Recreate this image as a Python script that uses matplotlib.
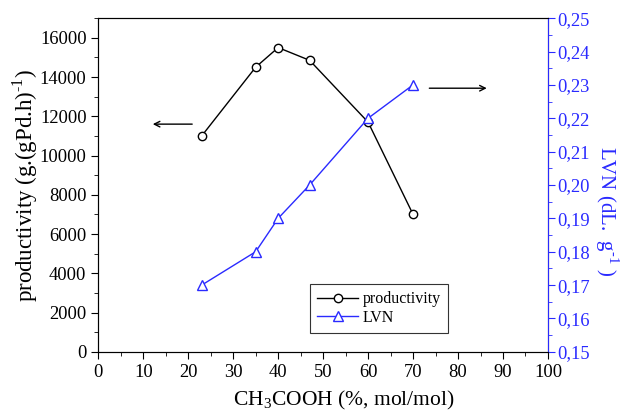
import matplotlib
matplotlib.use("Agg")
import matplotlib.pyplot as plt
from matplotlib.ticker import MultipleLocator, FuncFormatter

plt.rcParams['font.family'] = ['Liberation Serif', 'DejaVu Serif']
plt.rcParams['mathtext.fontset'] = 'custom'
plt.rcParams['mathtext.rm'] = 'Liberation Serif'

acid = [23, 35, 40, 47, 60, 70]
productivity = [11000, 14500, 15500, 14850, 11700, 7000]
lvn = [0.17, 0.18, 0.19, 0.20, 0.22, 0.23]

blue = '#2a2aff'

fig = plt.figure(figsize=(6.22, 4.12), dpi=100)
ax = fig.add_axes([0.158, 0.146, 0.723, 0.81])
ax2 = ax.twinx()

l1, = ax.plot(acid, productivity, color='black', lw=1, marker='o', ms=6,
              mfc='white', mec='black', mew=1, label='productivity')
l2, = ax2.plot(acid, lvn, color=blue, lw=1, marker='^', ms=7,
               mfc='white', mec=blue, mew=1, label='LVN')

ax.set_xlim(0, 100)
ax.set_ylim(0, 17000)
ax2.set_ylim(0.15, 0.25)

ax.xaxis.set_major_locator(MultipleLocator(10))
ax.xaxis.set_minor_locator(MultipleLocator(5))
ax.yaxis.set_major_locator(MultipleLocator(2000))
ax.yaxis.set_minor_locator(MultipleLocator(1000))
ax2.yaxis.set_major_locator(MultipleLocator(0.01))
ax2.yaxis.set_minor_locator(MultipleLocator(0.005))
ax2.yaxis.set_major_formatter(FuncFormatter(lambda v, p: f'{v:.2f}'.replace('.', ',')))

ax.tick_params(which='major', direction='out', length=5, labelsize=13.3)
ax.tick_params(which='minor', direction='out', length=3)
ax.tick_params(axis='x', which='both', top=False)
ax2.tick_params(which='major', direction='out', length=5, labelsize=13.3,
                colors=blue, pad=2)
ax2.tick_params(which='minor', direction='out', length=3, colors=blue)
ax2.spines['right'].set_color(blue)
for s in ['left', 'bottom', 'top']:
    ax.spines[s].set_color('#333333')

ax.set_xlabel('CH$_3$COOH (%, mol/mol)', fontsize=15.5)
ax.xaxis.set_label_coords(0.545, -0.11)
ax.set_ylabel('productivity (g.(gPd.h)$^{\\text{-}1}$)', fontsize=16.5)
ax.yaxis.set_label_coords(-0.13, 0.5)
ax2.set_ylabel('LVN (dL.  g$^{\\text{-}1}$ )', fontsize=15, color=blue,
               rotation=270, va='bottom')
ax2.yaxis.set_label_coords(1.1, 0.42)

ax.annotate('', xy=(11.5, 11600), xytext=(21.5, 11600),
            arrowprops=dict(arrowstyle='->', color='black', lw=1))
ax2.annotate('', xy=(87, 0.2290), xytext=(73, 0.2290),
             arrowprops=dict(arrowstyle='->', color='black', lw=1))

leg = ax.legend([l1, l2], ['productivity', 'LVN'], loc='lower left',
                bbox_to_anchor=(0.47, 0.057), fontsize=11.5, fancybox=False,
                edgecolor='#333333', framealpha=1, handlelength=2.6,
                borderpad=0.45, labelspacing=0.15, handletextpad=0.25,
                borderaxespad=0)
leg.get_frame().set_linewidth(0.8)

fig.savefig('out.png', dpi=100)
